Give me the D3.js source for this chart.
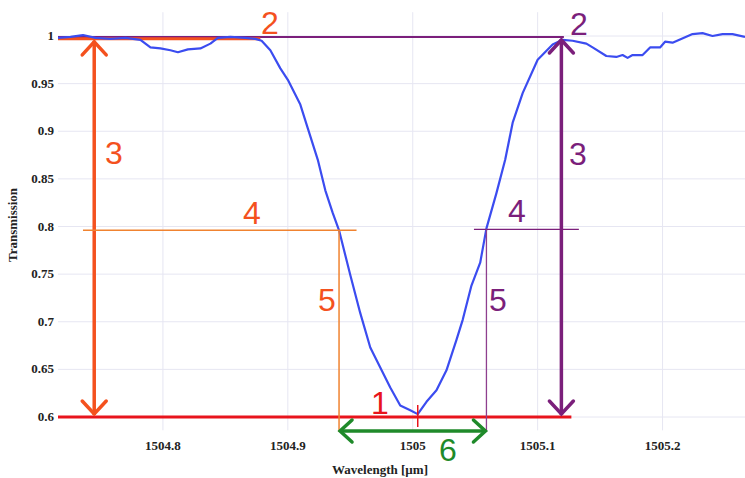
<!DOCTYPE html>
<html>
<head>
<meta charset="utf-8">
<script src="https://cdn.jsdelivr.net/npm/d3@7"></script>
<style>
  body { margin: 0; background: #fff; }
  svg { display: block; }
</style>
</head>
<body>
<script>
// measured transmission spectrum
var wavelength = [1504.716, 1504.726, 1504.736, 1504.746, 1504.758, 1504.770, 1504.782, 1504.790,
  1504.798, 1504.806, 1504.812, 1504.820, 1504.830, 1504.838, 1504.844, 1504.854, 1504.866, 1504.874,
  1504.879, 1504.886, 1504.894, 1504.900, 1504.910, 1504.916, 1504.924, 1504.930, 1504.936, 1504.941,
  1504.950, 1504.958, 1504.966, 1504.974, 1504.982, 1504.990, 1504.998, 1505.004, 1505.011, 1505.019,
  1505.027, 1505.035, 1505.040, 1505.047, 1505.054, 1505.059, 1505.067, 1505.074, 1505.080, 1505.088,
  1505.100, 1505.112, 1505.120, 1505.128, 1505.139, 1505.144, 1505.155, 1505.163, 1505.168, 1505.172,
  1505.176, 1505.184, 1505.190, 1505.198, 1505.202, 1505.208, 1505.224, 1505.232, 1505.240, 1505.248,
  1505.256, 1505.266];
var transmission = [0.998, 0.999, 1.001, 0.998, 0.997, 0.998, 0.996, 0.988,
  0.987, 0.985, 0.983, 0.986, 0.987, 0.992, 0.998, 0.999, 0.998, 0.997,
  0.995, 0.985, 0.966, 0.954, 0.928, 0.903, 0.870, 0.838, 0.814, 0.796,
  0.749, 0.709, 0.673, 0.652, 0.631, 0.612, 0.607, 0.603, 0.616, 0.628,
  0.649, 0.681, 0.702, 0.738, 0.762, 0.798, 0.835, 0.870, 0.909, 0.940,
  0.975, 0.991, 0.996, 0.995, 0.992, 0.988, 0.979, 0.978, 0.980, 0.977,
  0.980, 0.980, 0.988, 0.988, 0.994, 0.993, 1.002, 1.003, 1.000, 1.002,
  1.002, 0.999];

var xTicks = [1504.8, 1504.9, 1505, 1505.1, 1505.2];
var yTicks = [0.6, 0.65, 0.7, 0.75, 0.8, 0.85, 0.9, 0.95, 1];

// annotation values (data units)
var resonanceWl = 1505.004, minT = 0.6, maxTLeft = 0.997, maxTRight = 0.999;
var halfT = 0.796, leftHalfWl = 1504.941, rightHalfWl = 1505.059;
var leftArrowWl = 1504.745, rightArrowWl = 1505.119;

var width = 745, height = 478;
var x = d3.scaleLinear().domain([1504.716, 1505.266]).range([58, 745]);
var y = d3.scaleLinear().domain([0.6, 1]).range([417, 36]);

var svg = d3.select("body").append("svg").attr("width", width).attr("height", height);

// grid
svg.append("g").selectAll("line").data(xTicks).join("line")
  .attr("x1", d => x(d)).attr("x2", d => x(d))
  .attr("y1", y(1.025)).attr("y2", y(0.586))
  .attr("stroke", "#e6e6f2").attr("stroke-width", 1);
svg.append("g").selectAll("line").data(yTicks).join("line")
  .attr("x1", 58).attr("x2", width)
  .attr("y1", d => y(d)).attr("y2", d => y(d))
  .attr("stroke", "#e6e6f2").attr("stroke-width", 1);

// tick labels
var tickFont = "'Liberation Serif', 'DejaVu Serif', serif";
svg.append("g").selectAll("text").data(yTicks).join("text")
  .attr("x", 54).attr("y", d => y(d) + 4)
  .attr("text-anchor", "end")
  .attr("font-family", tickFont).attr("font-size", "13px").attr("font-weight", "bold")
  .attr("fill", "#222")
  .text(d => d3.format("")(d));
svg.append("g").selectAll("text").data(xTicks).join("text")
  .attr("x", d => x(d)).attr("y", 450)
  .attr("text-anchor", "middle")
  .attr("font-family", tickFont).attr("font-size", "13px").attr("font-weight", "bold")
  .attr("fill", "#222")
  .text(d => d);

svg.append("text")
  .attr("transform", "translate(17," + 225 + ") rotate(-90)")
  .attr("text-anchor", "middle")
  .attr("font-family", tickFont).attr("font-size", "13px").attr("font-weight", "bold")
  .attr("fill", "#222")
  .text("Transmission");
svg.append("text")
  .attr("x", 380).attr("y", 474)
  .attr("text-anchor", "middle")
  .attr("font-family", tickFont).attr("font-size", "13px").attr("font-weight", "bold")
  .attr("fill", "#222")
  .text("Wavelength [µm]");

var orange = "#f4511e", lightOrange = "#f08330", purple = "#7b1f7b",
    red = "#e8141c", green = "#1f8a2a", blue = "#3b4cf0";

function hline(x1, x2, yv, color, w) {
  svg.append("line").attr("x1", x1).attr("x2", x2).attr("y1", y(yv)).attr("y2", y(yv))
    .attr("stroke", color).attr("stroke-width", w);
}
function vline(xv, y1, y2, color, w) {
  svg.append("line").attr("x1", x(xv)).attr("x2", x(xv)).attr("y1", y1).attr("y2", y2)
    .attr("stroke", color).attr("stroke-width", w);
}
function chevron(ax, ay, dx, dy, color) {
  // apex at (ax, ay), arms going back along (dx, dy)
  var path = dx === 0
    ? "M" + (ax - 12) + "," + (ay + dy) + "L" + ax + "," + ay + "L" + (ax + 12) + "," + (ay + dy)
    : "M" + (ax + dx) + "," + (ay - 11) + "L" + ax + "," + ay + "L" + (ax + dx) + "," + (ay + 11);
  svg.append("path").attr("d", path).attr("fill", "none")
    .attr("stroke", color).attr("stroke-width", 3.5).attr("stroke-linecap", "round");
}
function label(px, py, txt, color) {
  svg.append("text").attr("x", px).attr("y", py).attr("text-anchor", "middle")
    .attr("font-family", "'Liberation Sans', Arial, sans-serif").attr("font-size", "32px")
    .attr("fill", color).text(txt);
}

// 2 : max transmission lines
hline(58, x(1505.121), maxTRight, purple, 2);
hline(58, x(1504.878), maxTLeft, orange, 3);

// 1 : min transmission
hline(58, x(1505.127), minT, red, 3);

// curve
var line = d3.line().x(d => x(d[0])).y(d => y(d[1]));
svg.append("path")
  .datum(d3.zip(wavelength, transmission))
  .attr("d", line)
  .attr("fill", "none").attr("stroke", blue).attr("stroke-width", 2.2)
  .attr("stroke-linejoin", "round");

// resonance tick
svg.append("line").attr("x1", x(resonanceWl)).attr("x2", x(resonanceWl))
  .attr("y1", y(minT) - 12).attr("y2", y(minT) + 10)
  .attr("stroke", red).attr("stroke-width", 1.5);

// 3 : depth arrows
vline(leftArrowWl, y(maxTLeft) + 2, y(minT) - 2, orange, 3.5);
chevron(x(leftArrowWl), y(maxTLeft) + 3, 0, 13, orange);
chevron(x(leftArrowWl), y(minT) - 3, 0, -13, orange);
vline(rightArrowWl, y(maxTRight) + 2, y(minT) - 2, purple, 3.5);
chevron(x(rightArrowWl), y(maxTRight) + 3, 0, 13, purple);
chevron(x(rightArrowWl), y(minT) - 3, 0, -13, purple);

// 4 : half-depth lines
hline(x(1504.736), x(1504.955), halfT, lightOrange, 1.5);
hline(x(1505.049), x(1505.133), halfT + 0.001, purple, 1.3);

// 5 : verticals to baseline
vline(leftHalfWl, y(halfT), 432, lightOrange, 1.5);
vline(rightHalfWl, y(halfT + 0.001), 432, "#8e3f8e", 1.3);

// 6 : width arrow
svg.append("line").attr("x1", x(leftHalfWl) + 2).attr("x2", x(rightHalfWl) - 2)
  .attr("y1", 431).attr("y2", 431).attr("stroke", green).attr("stroke-width", 3.5);
chevron(x(leftHalfWl) + 1, 431, 12, 0, green);
chevron(x(rightHalfWl) - 1, 431, -12, 0, green);

// number labels
label(270, 34, "2", orange);
label(579, 35, "2", purple);
label(114, 164, "3", orange);
label(578, 165, "3", purple);
label(252, 224, "4", orange);
label(517, 222, "4", purple);
label(327, 311, "5", orange);
label(498, 311, "5", purple);
label(380, 414, "1", red);
label(448, 461, "6", green);
</script>
</body>
</html>
